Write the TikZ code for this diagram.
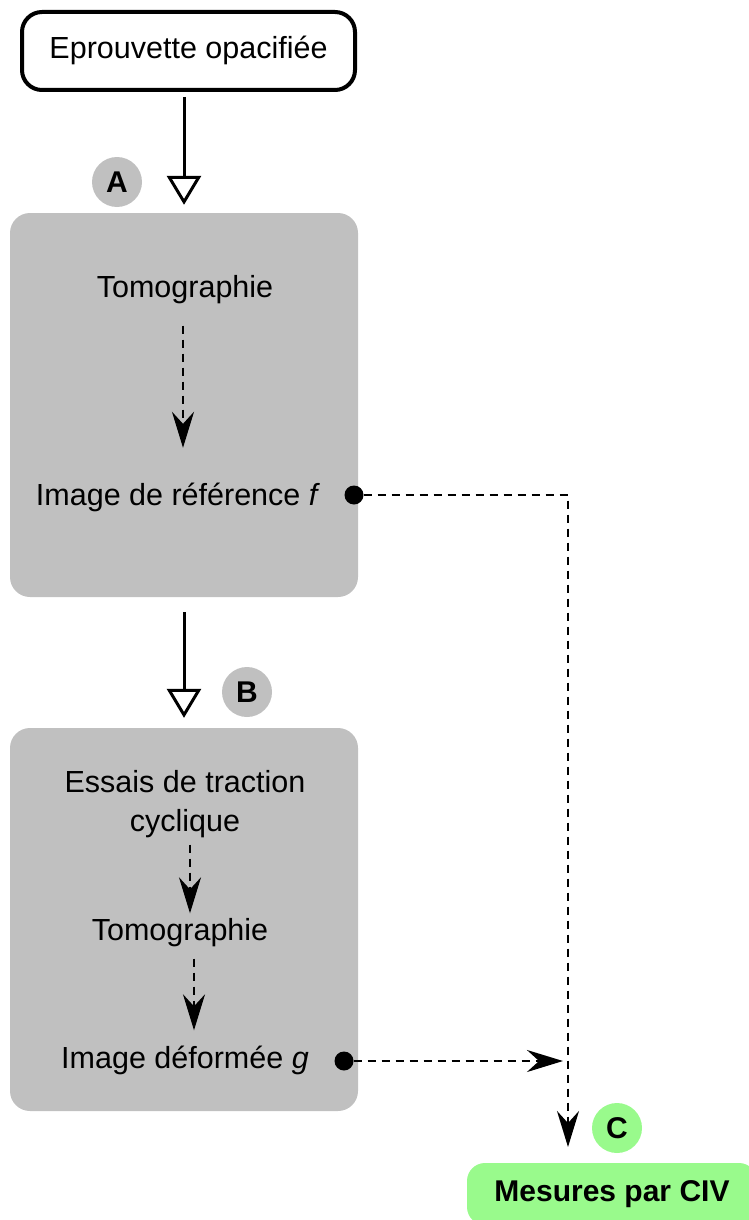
\documentclass[tikz,border=0pt]{standalone}
\usepackage{fontspec}
\setmainfont{Liberation Sans}
\usetikzlibrary{arrows.meta}
\definecolor{boxgray}{RGB}{192,192,192}
\definecolor{cgreen}{RGB}{153,250,140}
\begin{document}
\begin{tikzpicture}[x=1pt,y=-1pt,
  txt/.style={font=\fontsize{30.5}{39}\selectfont, inner sep=0pt, text height=22pt, text depth=7pt},
  panel/.style={fill=boxgray, rounded corners=20pt, draw=none, inner sep=0pt},
  badge/.style={circle, fill=boxgray, minimum size=50pt, inner sep=0pt, font=\fontsize{30}{32}\selectfont\bfseries},
  bigarrow/.style={line width=3pt, -{Triangle[open, length=29pt, width=34pt, line width=3pt]}},
  dasharrow/.style={line width=2.5pt, dash pattern=on 8pt off 6pt, -{Stealth[length=36pt, width=22pt, inset=12pt]}},
  dotstart/.style={circle, fill=black, minimum size=19pt, inner sep=0pt}
]
\path[use as bounding box] (0,0) rectangle (749,1220);
\clip (0,0) rectangle (749,1220);

% top box
\node[draw, line width=4pt, rounded corners=20pt, minimum width=333pt, minimum height=78pt, txt] (top) at (188.5,51) {Eprouvette opacifiée};

% panels
\node[panel, minimum width=348pt, minimum height=384pt] (p1) at (184,405) {};
\node[panel, minimum width=348pt, minimum height=383pt] (p2) at (184,919.5) {};

% green result box
\node[fill=cgreen, rounded corners=18pt, minimum width=290pt, minimum height=62pt, inner sep=0pt,
      font=\fontsize{30}{36}\selectfont\bfseries] (civ) at (612,1194) {Mesures par CIV};

% badges
\node[badge] (A) at (117,182) {A};
\node[badge] (B) at (247,692) {B};
\node[badge, fill=cgreen] (C) at (617,1128) {C};

% texts panel 1
\node[txt] (t1) at (185,290) {Tomographie};
\node[txt] (t2) at (178,497.5) {Image de référence \textit{f}};

% texts panel 2
\node[txt, align=center] (t3) at (185,824) {Essais de traction\\cyclique};
\node[txt] (t4) at (180,933) {Tomographie};
\node[txt] (t5) at (185,1061) {Image déformée \textit{g}};

% dots
\node[dotstart] (d1) at (354,495) {};
\node[dotstart] (d2) at (344,1061) {};
\coordinate (j) at (563,1061);
\coordinate (tipC) at (568,1147);

% main arrows
\draw[bigarrow] ([yshift=-5pt]top.south -| p1.north) -- ([yshift=8pt]p1.north);
\draw[bigarrow] ([yshift=-15pt]p1.south) -- ([yshift=10pt]p2.north);

% dashed arrows inside panels
\draw[dasharrow] ([yshift=-21pt]t1.south -| 183,0) -- ([yshift=35pt]t2.north -| 183,0);
\draw[dasharrow] ([yshift=-6pt]t3.south -| 190,0) -- ([yshift=5pt]t4.north -| 190,0);
\draw[dasharrow] ([yshift=-11pt]t4.south -| 194,0) -- ([yshift=16pt]t5.north -| 194,0);

% connectors to CIV
\draw[dasharrow] (d1.east) -| (tipC);
\draw[dasharrow] (d2.east) -- (j);
\end{tikzpicture}
\end{document}
